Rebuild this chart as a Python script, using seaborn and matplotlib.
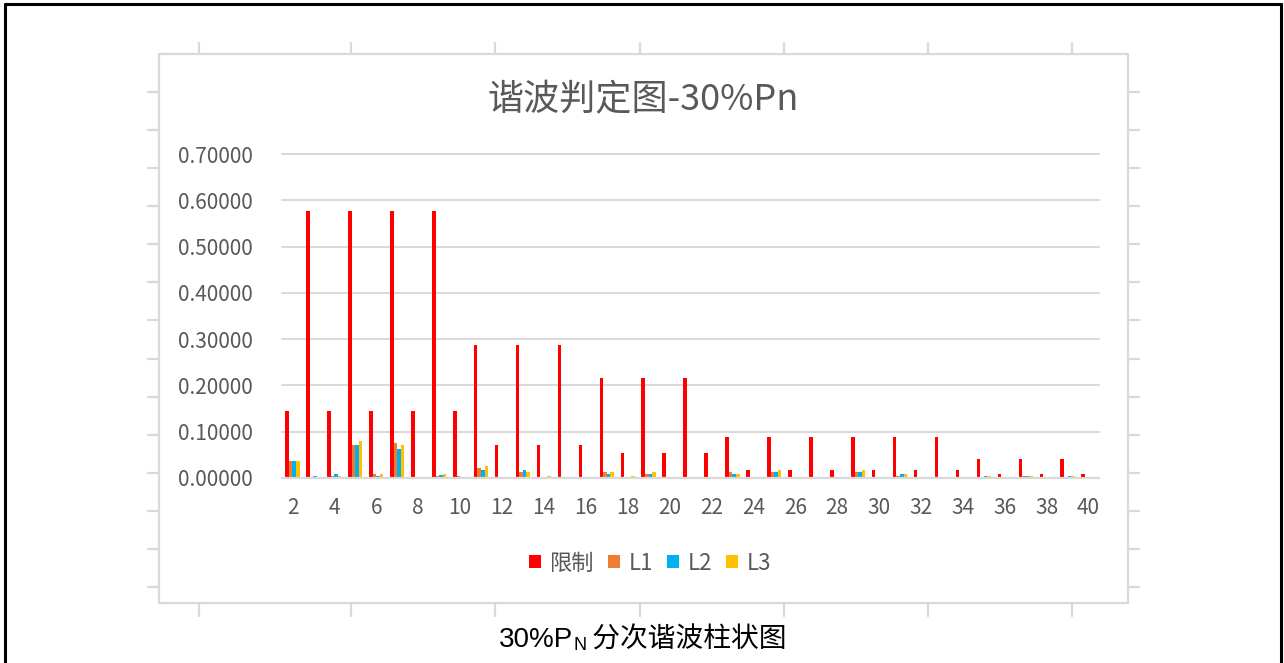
import numpy as np
import pandas as pd
import matplotlib
matplotlib.use("Agg")
import matplotlib.pyplot as plt
from matplotlib.lines import Line2D
from matplotlib.patches import Patch
import seaborn as sns

# Harmonic orders and per-order values
orders = list(range(2, 41))
limit = [0.144, 0.577, 0.144, 0.577, 0.144, 0.577, 0.144, 0.577, 0.144, 0.288,
         0.071, 0.288, 0.071, 0.288, 0.071, 0.216, 0.053, 0.216, 0.053, 0.216,
         0.053, 0.088, 0.018, 0.088, 0.018, 0.088, 0.018, 0.088, 0.018, 0.088,
         0.018, 0.088, 0.018, 0.040, 0.009, 0.040, 0.009, 0.040, 0.009]
l1 = [0.036, 0.001, 0.004, 0.071, 0.009, 0.075, 0.000, 0.004, 0.004, 0.021,
      0.000, 0.013, 0.000, 0.000, 0.000, 0.013, 0.002, 0.009, 0.000, 0.000,
      0.000, 0.013, 0.000, 0.013, 0.000, 0.000, 0.000, 0.013, 0.000, 0.004,
      0.000, 0.000, 0.000, 0.000, 0.000, 0.004, 0.000, 0.000, 0.000]
l2 = [0.036, 0.004, 0.009, 0.071, 0.005, 0.062, 0.000, 0.006, 0.000, 0.018,
      0.000, 0.018, 0.000, 0.000, 0.000, 0.009, 0.000, 0.009, 0.000, 0.000,
      0.000, 0.009, 0.000, 0.013, 0.000, 0.000, 0.000, 0.013, 0.000, 0.009,
      0.000, 0.000, 0.000, 0.004, 0.000, 0.004, 0.000, 0.004, 0.000]
l3 = [0.036, 0.000, 0.004, 0.079, 0.009, 0.071, 0.000, 0.009, 0.000, 0.026,
      0.000, 0.013, 0.004, 0.000, 0.000, 0.013, 0.004, 0.013, 0.000, 0.000,
      0.000, 0.009, 0.000, 0.018, 0.000, 0.000, 0.000, 0.018, 0.000, 0.009,
      0.000, 0.000, 0.000, 0.004, 0.000, 0.004, 0.000, 0.004, 0.000]
series_names = ["限制", "L1", "L2", "L3"]
series_colors = ["#FF0000", "#ED7D31", "#00B0F0", "#FFC000"]
y_ticks = [0.0, 0.1, 0.2, 0.3, 0.4, 0.5, 0.6, 0.7]

sns.set_theme(style="white")
plt.rcParams["font.family"] = ["Noto Sans CJK SC", "DejaVu Sans"]

W, H = 1284, 663
fig = plt.figure(figsize=(W / 100, H / 100), dpi=100)
fig.patch.set_facecolor("white")


def fx(px):
    return px / W


def fy(py):
    return 1 - py / H


# plot area
ax = fig.add_axes([fx(282), fy(478), fx(1099) - fx(282), fy(154) - fy(478)])

df = pd.DataFrame({
    "order": [str(o) for o in orders] * 4,
    "value": limit + l1 + l2 + l3,
    "series": sum([[n] * len(orders) for n in series_names], []),
})
sns.barplot(data=df, x="order", y="value", hue="series",
            hue_order=series_names, palette=series_colors,
            order=[str(o) for o in orders], width=0.68, saturation=1,
            linewidth=0, legend=False, ax=ax)

grid_c = "#D9D9D9"
text_c = "#595959"
ax.set_ylim(0, 0.7)
ax.set_yticks(y_ticks)
ax.set_yticklabels([f"{v:.5f}" for v in y_ticks])
ax.yaxis.grid(True, color=grid_c, linewidth=1.4)
for gl in ax.get_ygridlines():
    gl.set_clip_on(False)
ax.set_axisbelow(True)
even_pos = [i for i, o in enumerate(orders) if o % 2 == 0]
ax.set_xticks(even_pos)
ax.set_xticklabels([str(orders[i]) for i in even_pos])
ax.tick_params(axis="both", length=0, labelsize=15, labelcolor=text_c)
ax.tick_params(axis="y", pad=21)
ax.tick_params(axis="x", pad=14)
for s in ["left", "right", "top"]:
    ax.spines[s].set_visible(False)
ax.spines["bottom"].set_color(grid_c)
ax.spines["bottom"].set_linewidth(1.6)
ax.set_xlabel("")
ax.set_ylabel("")
ax.set_facecolor("none")

# title
fig.text(fx(643), fy(100), "谐波判定图-30%Pn", ha="center", va="center",
         fontsize=26, color=text_c)

# legend
handles = [Patch(facecolor=c, edgecolor="none") for c in series_colors]
fig.legend(handles, series_names, loc="center", ncol=4,
           bbox_to_anchor=(fx(650), fy(563)), frameon=False, fontsize=16,
           labelcolor=text_c, handlelength=0.55, handleheight=0.55,
           handletextpad=0.4, columnspacing=0.6)

# chart frame with outer tick marks
frame_c = "#D9D9D9"
x0, x1, y0, y1 = 159, 1128, 54, 603
for (xa, ya, xb, yb) in [(x0, y0, x1, y0), (x0, y1, x1, y1),
                         (x0, y0, x0, y1), (x1, y0, x1, y1)]:
    fig.add_artist(Line2D([fx(xa), fx(xb)], [fy(ya), fy(yb)],
                          color=frame_c, lw=1.6))
for xt in [199, 351, 495, 640, 784, 928, 1072]:
    fig.add_artist(Line2D([fx(xt), fx(xt)], [fy(y0 - 11), fy(y0)], color=frame_c, lw=1.6))
    fig.add_artist(Line2D([fx(xt), fx(xt)], [fy(y1), fy(y1 + 13)], color=frame_c, lw=1.6))
for yt in np.linspace(92, 587, 14):
    fig.add_artist(Line2D([fx(x0 - 11), fx(x0)], [fy(yt), fy(yt)], color=frame_c, lw=1.6))
    fig.add_artist(Line2D([fx(x1), fx(x1 + 11)], [fy(yt), fy(yt)], color=frame_c, lw=1.6))

# outer black border
for (xa, ya, xb, yb) in [(5, 4, 1281, 4), (5, 4, 5, 663), (1281, 4, 1281, 663)]:
    fig.add_artist(Line2D([fx(xa), fx(xb)], [fy(ya), fy(yb)],
                          color="black", lw=2.2))

# caption with subscript
cap_y = fy(640)
t1 = fig.text(0, cap_y, "30%P", ha="left", va="center", fontsize=20,
              family=["Liberation Sans", "DejaVu Sans"], color="black")
t2 = fig.text(0, cap_y - 6 / H, "N", ha="left", va="center", fontsize=13,
              family=["Liberation Sans", "DejaVu Sans"], color="black")
t3 = fig.text(0, cap_y, " 分次谐波柱状图", ha="left", va="center", fontsize=20,
              family=["Noto Sans CJK SC", "DejaVu Sans"], color="black")
fig.canvas.draw()
r = fig.canvas.get_renderer()
widths = [t.get_window_extent(r).width for t in (t1, t2, t3)]
start = 643 - sum(widths) / 2
pos = start
for t, w in zip((t1, t2, t3), widths):
    t.set_x(fx(pos))
    pos += w

fig.savefig("out.png", dpi=100, facecolor="white")
